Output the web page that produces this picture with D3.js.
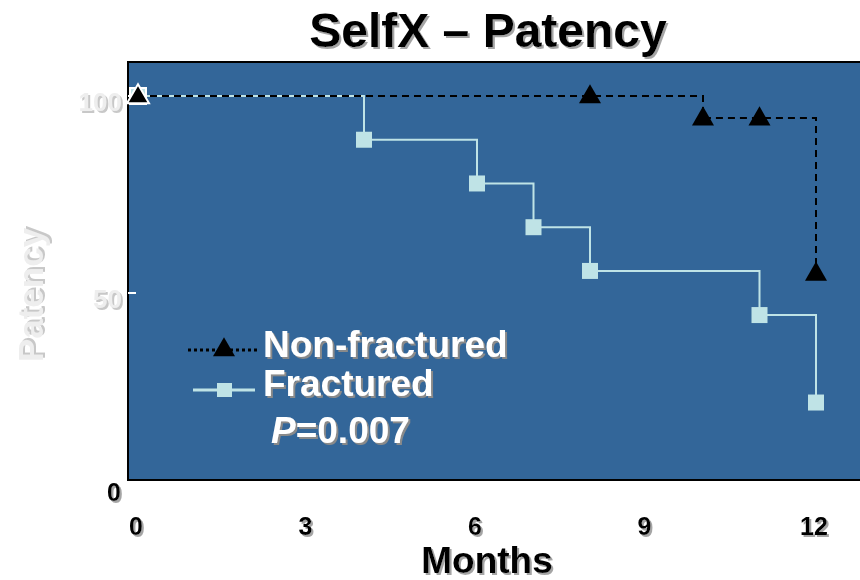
<!DOCTYPE html>
<html lang="en">
<head>
<meta charset="UTF-8">
<title>SelfX – Patency</title>
<script src="https://d3js.org/d3.v7.min.js"></script>
<style>
  body { margin: 0; background: #fff; }
  svg text { font-family: Arial, "Liberation Sans", sans-serif; font-weight: bold; }
</style>
</head>
<body>
<svg id="chart" width="860" height="580"></svg>
<script>
// Kaplan-Meier style step data (months, patency %)
const fracturedMonths = [0, 4, 6, 7, 8, 11, 12];
const fracturedValues = [100, 88.9, 77.8, 66.7, 55.6, 44.4, 22.2];
const nonFracturedMonths = [0, 8, 10, 11, 12];
const nonFracturedValues = [100, 100, 94.4, 94.4, 55];
const xTicks = [0, 3, 6, 9, 12];
const yTicks = [100, 50];

const svg = d3.select('#chart');
const x = d3.scaleLinear().domain([0, 12]).range([138, 816]);
const y = d3.scaleLinear().domain([0, 100]).range([490, 96]);

// drop shadows like the slide's text effect
const defs = svg.append('defs');
function addShadow(id, col) {
  defs.append('filter').attr('id', id)
    .attr('x', '-10%').attr('y', '-20%').attr('width', '130%').attr('height', '150%')
    .append('feDropShadow')
    .attr('dx', 2).attr('dy', 2).attr('stdDeviation', 0.6)
    .attr('flood-color', col).attr('flood-opacity', 1);
}
addShadow('shDark', '#8a8a8a');
addShadow('shGray', '#a5a5a5');
addShadow('shLight', '#c8c8c8');

function label(g, tx, ty, str, size, fill, anchor, shadow, weight) {
  return g.append('text')
    .attr('x', tx).attr('y', ty)
    .attr('font-size', size).attr('fill', fill)
    .attr('font-weight', weight || 'bold')
    .attr('text-anchor', anchor || 'start')
    .attr('filter', `url(#${shadow})`)
    .text(str);
}

// plot panel
const panelLeft = 128, panelTop = 62, panelBottom = 480;
svg.append('rect')
  .attr('x', panelLeft).attr('y', panelTop)
  .attr('width', 900).attr('height', panelBottom - panelTop)
  .attr('fill', '#336699')
  .attr('stroke', '#000').attr('stroke-width', 2);

// y ticks
yTicks.forEach(t => {
  svg.append('line')
    .attr('x1', panelLeft).attr('x2', panelLeft + 8)
    .attr('y1', y(t)).attr('y2', y(t))
    .attr('stroke', '#fff').attr('stroke-width', 2);
  label(svg, 122, y(t) + 15, t, 26, '#eeeeee', 'end', 'shLight', 'normal');
});
label(svg, 121, 501, '0', 25, '#000', 'end', 'shGray');

// x ticks
xTicks.forEach(t => {
  label(svg, x(t) - 2, 535, t, 25, '#000', 'middle', 'shGray');
});

// axis titles
label(svg, 487, 573, 'Months', 37, '#000', 'middle', 'shGray');
const yt = svg.append('g').attr('transform', 'translate(43,295) rotate(-90)');
label(yt, 0, 0, 'Patency', 35, '#eeeeee', 'middle', 'shLight', 'normal');

// title
label(svg, 488, 47, 'SelfX – Patency', 48, '#000', 'middle', 'shGray');

// step lines
function stepPoints(xs, ys) {
  return xs.map((d, i) => [d, ys[i]]);
}
const line = d3.line().x(d => x(d[0])).y(d => y(d[1])).curve(d3.curveStepAfter);

svg.append('path')
  .datum(stepPoints(fracturedMonths, fracturedValues))
  .attr('d', line)
  .attr('fill', 'none')
  .attr('stroke', '#bfe3e6').attr('stroke-width', 2);

svg.append('path')
  .datum(stepPoints(nonFracturedMonths, nonFracturedValues))
  .attr('d', line)
  .attr('fill', 'none')
  .attr('stroke', '#000').attr('stroke-width', 2)
  .attr('stroke-dasharray', '7,5');

// markers
const sq = 16;
svg.selectAll('rect.frac')
  .data(stepPoints(fracturedMonths, fracturedValues))
  .enter().append('rect')
  .attr('class', 'frac')
  .attr('x', d => x(d[0]) - sq / 2)
  .attr('y', d => y(d[1]) - sq / 2)
  .attr('width', sq).attr('height', sq)
  .attr('fill', '#bfe3e6')
  .attr('stroke', (d, i) => i === 0 ? '#fff' : 'none')
  .attr('stroke-width', 2);

const tri = d3.symbol().type(d3.symbolTriangle).size(210);
svg.selectAll('path.nonfrac')
  .data(stepPoints(nonFracturedMonths, nonFracturedValues))
  .enter().append('path')
  .attr('class', 'nonfrac')
  .attr('d', tri)
  .attr('transform', d => `translate(${x(d[0])},${y(d[1]) + 1})`)
  .attr('fill', '#000')
  .attr('stroke', (d, i) => i === 0 ? '#fff' : 'none')
  .attr('stroke-width', 2);

// legend
svg.append('line')
  .attr('x1', 188).attr('x2', 258).attr('y1', 350).attr('y2', 350)
  .attr('stroke', '#000').attr('stroke-width', 3)
  .attr('stroke-dasharray', '3,3');
svg.append('path').attr('d', tri)
  .attr('transform', 'translate(224,350)').attr('fill', '#000');
svg.append('line')
  .attr('x1', 193).attr('x2', 255).attr('y1', 390).attr('y2', 390)
  .attr('stroke', '#bfe3e6').attr('stroke-width', 3);
svg.append('rect')
  .attr('x', 217).attr('y', 383).attr('width', 15).attr('height', 14)
  .attr('fill', '#bfe3e6');

label(svg, 263, 357, 'Non-fractured', 37, '#fff', 'start', 'shDark');
label(svg, 263, 396, 'Fractured', 37, '#fff', 'start', 'shDark');

const pLabel = svg.append('text')
  .attr('x', 271).attr('y', 443)
  .attr('font-size', 37).attr('fill', '#fff')
  .attr('filter', 'url(#shDark)');
pLabel.append('tspan').attr('font-style', 'italic').text('P');
pLabel.append('tspan').text('=0.007');
</script>
</body>
</html>
